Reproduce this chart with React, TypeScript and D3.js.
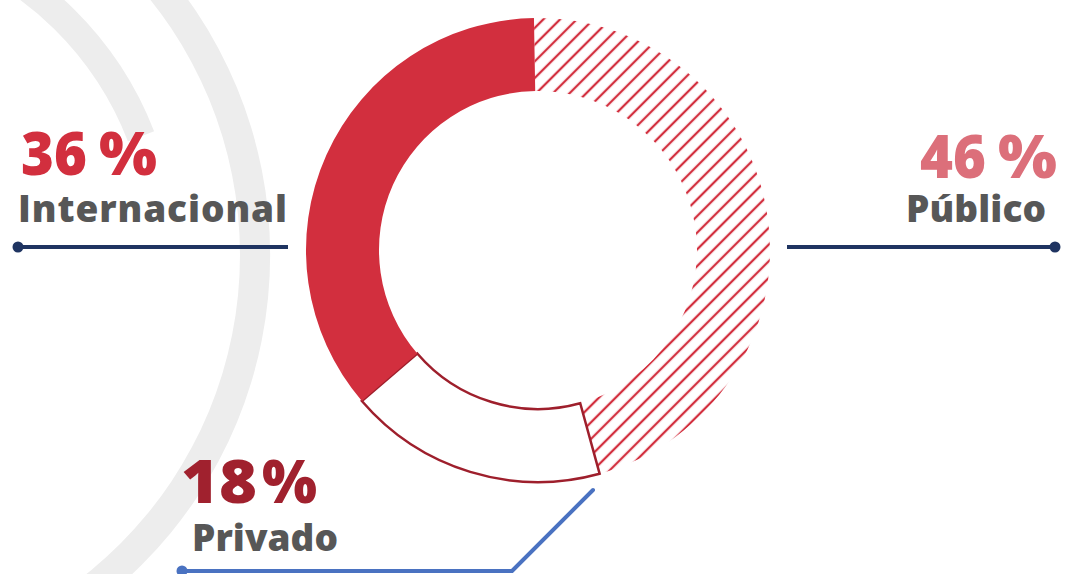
import React from "react";
import * as d3 from "d3";

const categories = ["Público", "Privado", "Internacional"];
const values = [46, 18, 36];
const valueLabels = ["46", "18", "36"];

const W = 1066;
const H = 574;

export default function App() {
  const cx = 538;
  const cy = 250;
  const outerR = 232;
  const innerR = 159;

  const pie = d3
    .pie<number>()
    .sort(null)
    .startAngle((-1 * Math.PI) / 180)
    .endAngle(2 * Math.PI - (1 * Math.PI) / 180);
  const arcs = pie(values);
  const arc = d3.arc<d3.PieArcDatum<number>>().innerRadius(innerR).outerRadius(outerR);

  const bgArc = d3.arc<any>();
  const bgOuter = bgArc({ innerRadius: 408, outerRadius: 438, startAngle: 0, endAngle: Math.PI }) as string;
  const bgInner = bgArc({
    innerRadius: 317,
    outerRadius: 345,
    startAngle: (20 * Math.PI) / 180,
    endAngle: (69 * Math.PI) / 180,
  }) as string;

  const fills = ["url(#hatch)", "#ffffff", "#d22f3e"];
  const strokes = ["none", "#9e1f2c", "none"];

  const font = "'Open Sans', sans-serif";
  const grey = "#575757";

  const Pct = ({ x, y, digits, dw, px, pw, color }: any) => (
    <g fill={color} fontFamily={font} fontWeight={800} fontSize={61}>
      <text x={x} y={y} textLength={dw} lengthAdjust="spacingAndGlyphs">
        {digits}
      </text>
      <text x={px} y={y} textLength={pw} lengthAdjust="spacingAndGlyphs">
        %
      </text>
    </g>
  );

  return (
    <svg width={W} height={H} style={{ position: "absolute", left: 0, top: 0 }}>
      <defs>
        <pattern id="hatch" patternUnits="userSpaceOnUse" width="11.8" height="11.8" patternTransform="rotate(45)">
          <line x1="5.9" y1="0" x2="5.9" y2="11.8" stroke="#d22f3e" strokeWidth="2.3" />
        </pattern>
      </defs>
      <rect width={W} height={H} fill="#ffffff" />
      <g transform="translate(-168,255)">
        <path d={bgOuter} fill="#ededed" />
        <path d={bgInner} fill="#ededed" />
      </g>

      <g transform={`translate(${cx},${cy})`}>
        {arcs.map((a, i) => (
          <path
            key={categories[i]}
            d={arc(a) as string}
            fill={fills[i]}
            stroke={strokes[i]}
            strokeWidth={2.5}
            strokeLinejoin="miter"
          />
        ))}
      </g>

      {/* Internacional */}
      <Pct x={21} y={175} digits={valueLabels[2]} dw={66} px={99} pw={58} color="#d22f3e" />
      <text x={18} y={222} fontFamily={font} fontWeight={800} fontSize={37} fill={grey} textLength={269} lengthAdjust="spacing">
        {categories[2]}
      </text>
      <line x1={18} y1={247} x2={288} y2={247} stroke="#1f3461" strokeWidth={4} />
      <circle cx={18} cy={247} r={5.5} fill="#1f3461" />

      {/* Público */}
      <Pct x={920} y={178} digits={valueLabels[0]} dw={66} px={998} pw={59} color="#dc6f7a" />
      <text x={906} y={222} fontFamily={font} fontWeight={800} fontSize={37} fill={grey} textLength={140} lengthAdjust="spacing">
        {categories[0]}
      </text>
      <line x1={787} y1={247} x2={1055} y2={247} stroke="#1f3461" strokeWidth={4} />
      <circle cx={1055} cy={247} r={5.5} fill="#1f3461" />

      {/* Privado */}
      <Pct x={181} y={503} digits={valueLabels[1]} dw={76} px={262} pw={55} color="#a0212e" />
      <text x={192} y={551} fontFamily={font} fontWeight={800} fontSize={37} fill={grey} textLength={146} lengthAdjust="spacing">
        {categories[1]}
      </text>
      <polyline points="182,571 512,571 593,490" fill="none" stroke="#4a72c1" strokeWidth={4} strokeLinecap="round" strokeLinejoin="round" />
      <circle cx={182} cy={571} r={5.5} fill="#4a72c1" />
    </svg>
  );
}
